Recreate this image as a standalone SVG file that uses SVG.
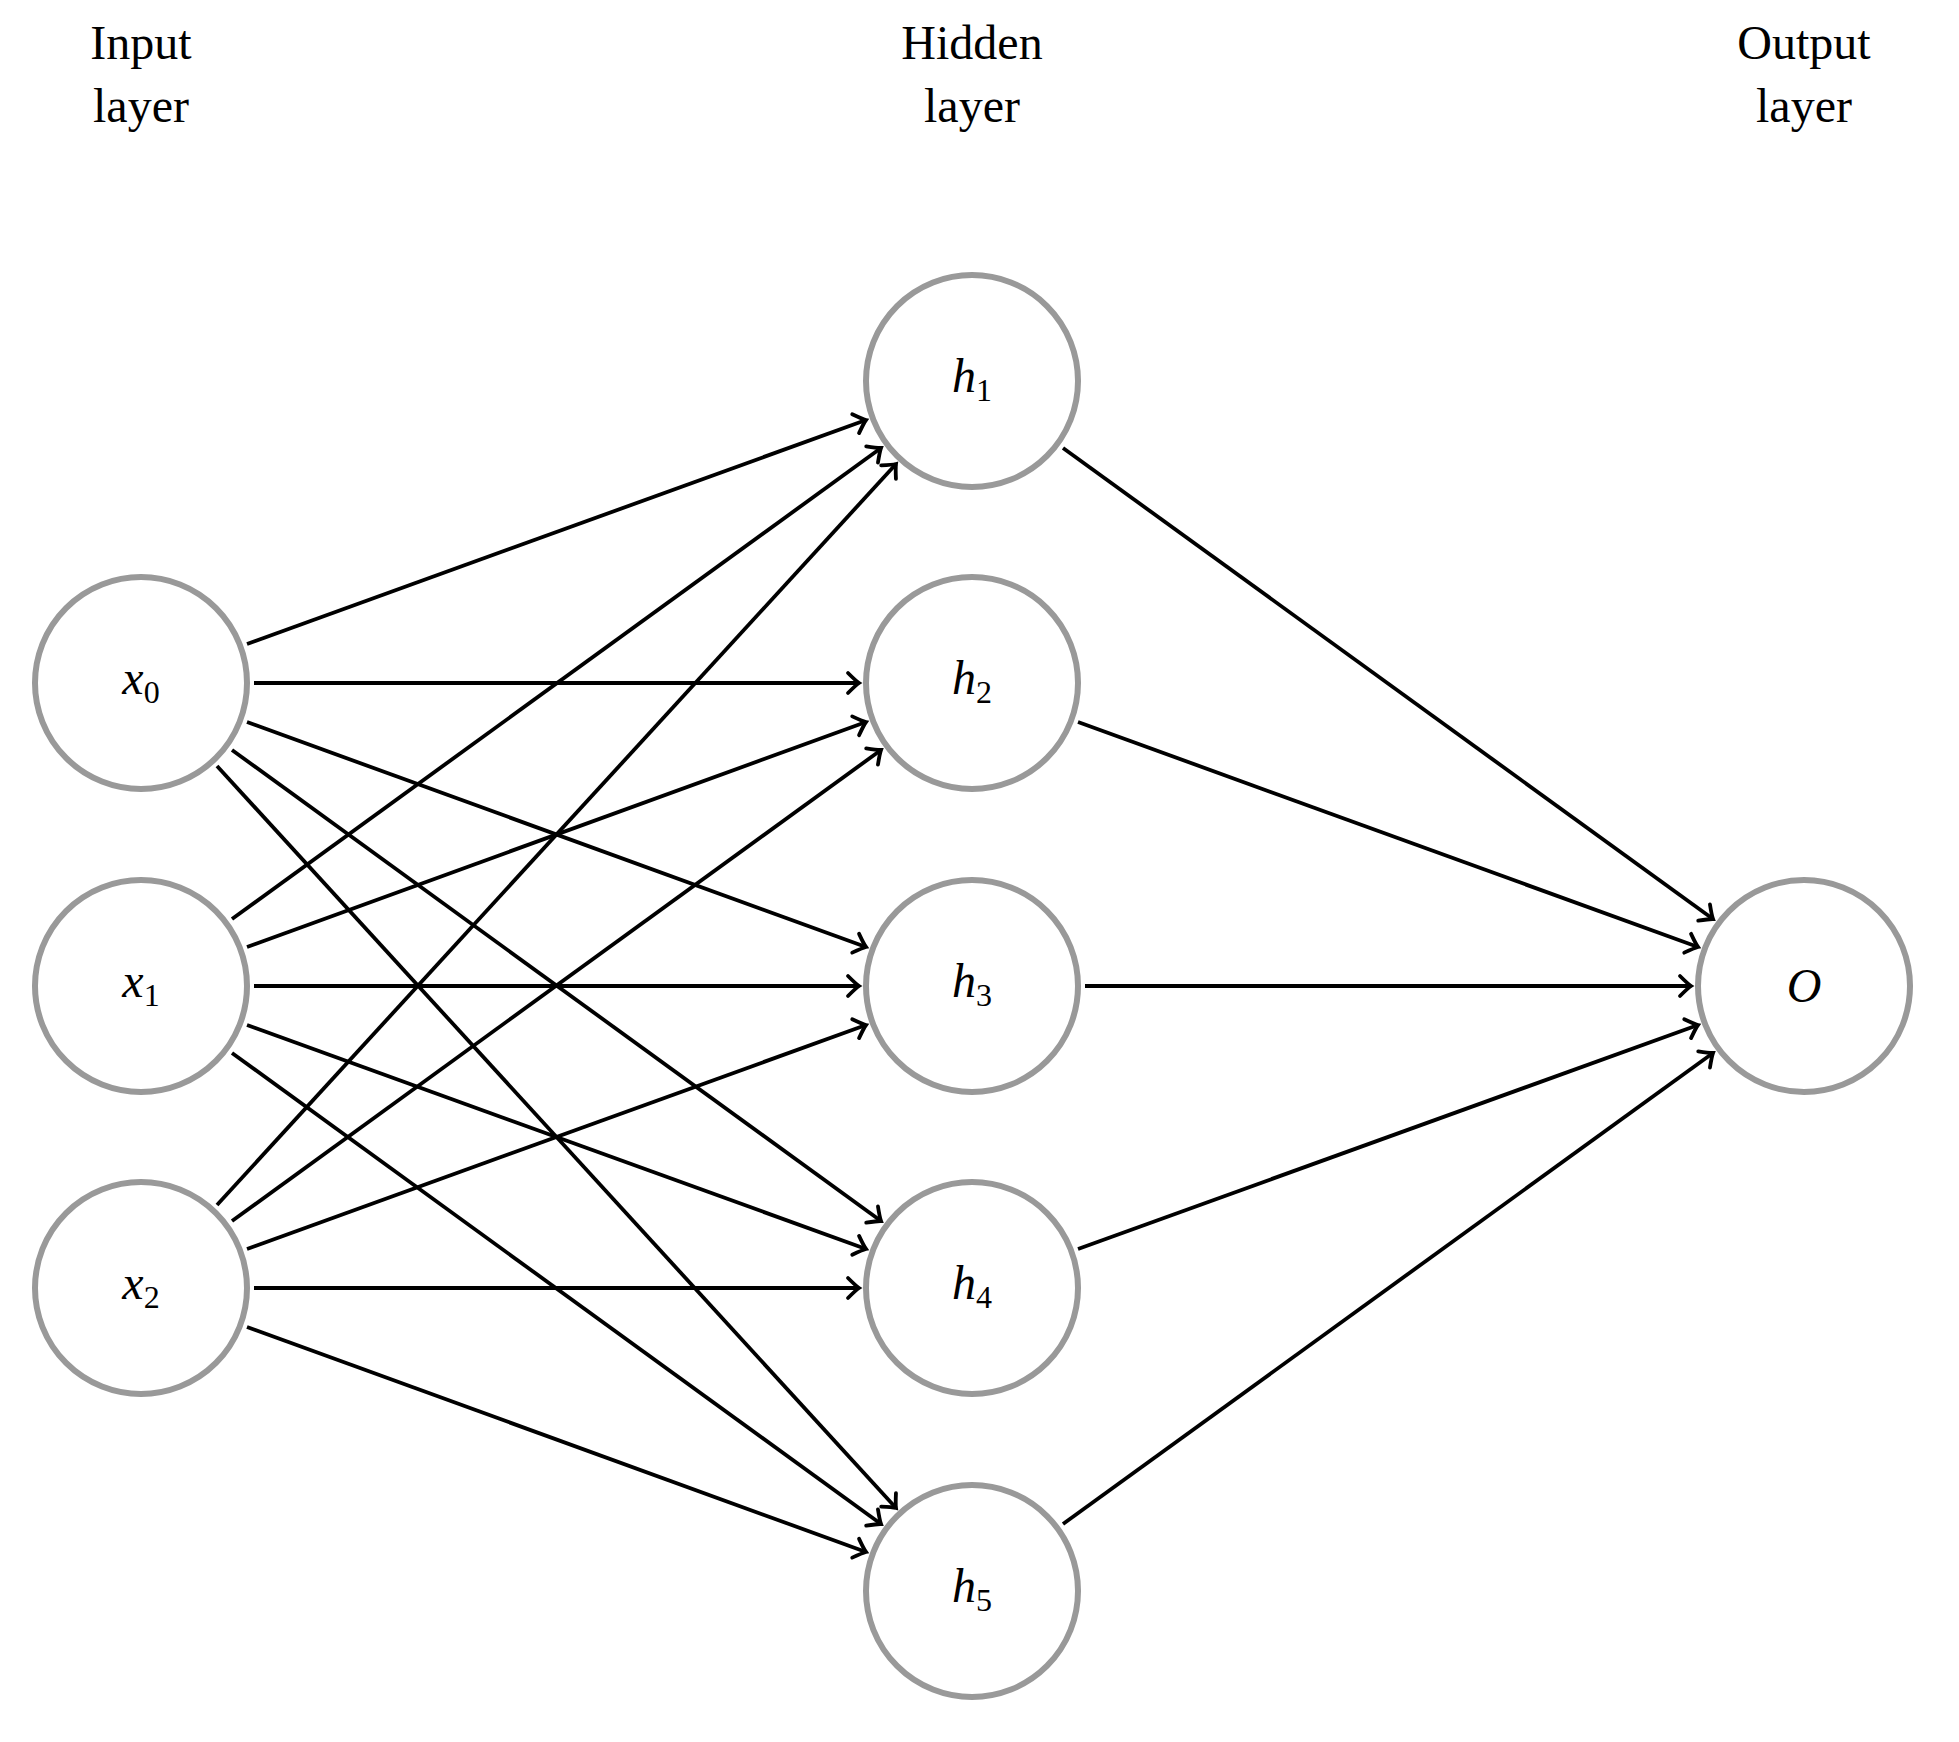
<svg xmlns="http://www.w3.org/2000/svg" width="1959" height="1742" viewBox="0 0 1959 1742">
<style>
.n{fill:#fff;stroke:#999;stroke-width:6}
.m{font-family:"Liberation Serif",serif;font-style:italic;font-size:48px;text-anchor:middle}
.s{font-size:32px;font-style:normal}
.h{font-family:"Liberation Serif",serif;font-size:48px;text-anchor:middle}
#edges line{stroke:#000;stroke-width:3.8;marker-end:url(#a)}
</style>
<defs>
<marker id="a" markerUnits="userSpaceOnUse" markerWidth="30" markerHeight="30" refX="0" refY="0" viewBox="-15 -15 30 30" orient="auto">
<path d="M-11,-10 Q-3,-2 0,0 Q-3,2 -11,10" fill="none" stroke="#000" stroke-width="3.8" stroke-linecap="round"/>
</marker>
</defs>
<rect width="1959" height="1742" fill="#fff"/>
<g id="headers">
<text class="h" x="141" y="59">Input</text><text class="h" x="141" y="122">layer</text>
<text class="h" x="972" y="59">Hidden</text><text class="h" x="972" y="122">layer</text>
<text class="h" x="1804" y="59">Output</text><text class="h" x="1804" y="122">layer</text>
</g>
<g id="edges">
<line x1="247" y1="644" x2="866" y2="420"/>
<line x1="254" y1="683" x2="859" y2="683"/>
<line x1="247" y1="722" x2="866" y2="947"/>
<line x1="232" y1="750" x2="881" y2="1221"/>
<line x1="217" y1="766" x2="896" y2="1508"/>
<line x1="232" y1="919" x2="881" y2="448"/>
<line x1="247" y1="947" x2="866" y2="722"/>
<line x1="254" y1="986" x2="859" y2="986"/>
<line x1="247" y1="1025" x2="866" y2="1249"/>
<line x1="232" y1="1053" x2="881" y2="1524"/>
<line x1="217" y1="1205" x2="896" y2="464"/>
<line x1="232" y1="1221" x2="881" y2="750"/>
<line x1="247" y1="1249" x2="866" y2="1025"/>
<line x1="254" y1="1288" x2="859" y2="1288"/>
<line x1="247" y1="1327" x2="866" y2="1552"/>
<line x1="1063" y1="448" x2="1713" y2="919"/>
<line x1="1078" y1="722" x2="1698" y2="947"/>
<line x1="1085" y1="986" x2="1691" y2="986"/>
<line x1="1078" y1="1249" x2="1698" y2="1025"/>
<line x1="1063" y1="1524" x2="1713" y2="1053"/>
</g>
<g id="x0"><circle class="n" cx="141" cy="683" r="106"/><text class="m" x="141" y="694">x<tspan class="s" dy="9">0</tspan></text></g>
<g id="x1"><circle class="n" cx="141" cy="986" r="106"/><text class="m" x="141" y="997">x<tspan class="s" dy="9">1</tspan></text></g>
<g id="x2"><circle class="n" cx="141" cy="1288" r="106"/><text class="m" x="141" y="1299">x<tspan class="s" dy="9">2</tspan></text></g>
<g id="h1"><circle class="n" cx="972" cy="381" r="106"/><text class="m" x="972" y="392">h<tspan class="s" dy="9">1</tspan></text></g>
<g id="h2"><circle class="n" cx="972" cy="683" r="106"/><text class="m" x="972" y="694">h<tspan class="s" dy="9">2</tspan></text></g>
<g id="h3"><circle class="n" cx="972" cy="986" r="106"/><text class="m" x="972" y="997">h<tspan class="s" dy="9">3</tspan></text></g>
<g id="h4"><circle class="n" cx="972" cy="1288" r="106"/><text class="m" x="972" y="1299">h<tspan class="s" dy="9">4</tspan></text></g>
<g id="h5"><circle class="n" cx="972" cy="1591" r="106"/><text class="m" x="972" y="1602">h<tspan class="s" dy="9">5</tspan></text></g>
<g id="O"><circle class="n" cx="1804" cy="986" r="106"/><text class="m" x="1804" y="1002">O</text></g>
</svg>
